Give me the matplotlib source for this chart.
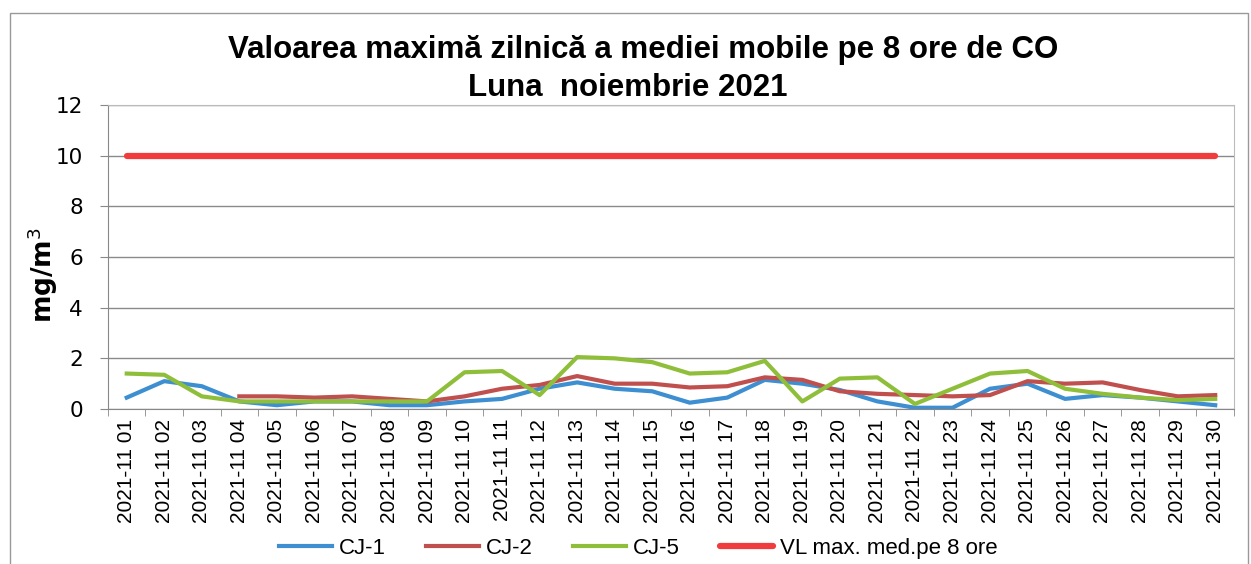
import numpy as np
import matplotlib
matplotlib.use("Agg")
import matplotlib.pyplot as plt
from matplotlib.patches import Rectangle

# daily max of 8h running mean, CO, mg/m3
days = ["2021-11 %02d" % d for d in range(1, 31)]
cj1 = [0.45, 1.1, 0.9, 0.3, 0.15, 0.3, 0.3, 0.15, 0.15, 0.3,
       0.4, 0.8, 1.05, 0.8, 0.7, 0.25, 0.45, 1.15, 1.0, 0.75,
       0.3, 0.05, 0.05, 0.8, 1.0, 0.4, 0.55, 0.45, 0.3, 0.15]
cj2 = [np.nan, np.nan, np.nan, 0.5, 0.5, 0.45, 0.5, 0.4, 0.3, 0.5,
       0.8, 0.95, 1.3, 1.0, 1.0, 0.85, 0.9, 1.25, 1.15, 0.7,
       0.6, 0.55, 0.5, 0.55, 1.1, 1.0, 1.05, 0.75, 0.5, 0.55]
cj5 = [1.4, 1.35, 0.5, 0.3, 0.3, 0.3, 0.3, 0.3, 0.3, 1.45,
       1.5, 0.55, 2.05, 2.0, 1.85, 1.4, 1.45, 1.9, 0.3, 1.2,
       1.25, 0.2, 0.8, 1.4, 1.5, 0.8, 0.6, 0.45, 0.35, 0.4]
vl = [10] * 30

fig = plt.figure(figsize=(12.51, 5.64), dpi=100)
ax = fig.add_axes([0.0863, 0.2748, 0.9001, 0.539])

x = np.arange(len(days))
ax.plot(x, cj1, color="#3d8fd1", lw=3, label="CJ-1")
ax.plot(x, cj2, color="#c0504d", lw=3, label="CJ-2")
ax.plot(x, cj5, color="#8fbf3a", lw=3, label="CJ-5")
ax.plot(x, vl, color="#f03c3c", lw=4.5, solid_capstyle="round", label="VL max. med.pe 8 ore")

ax.set_xlim(-0.5, len(days) - 0.5)
ax.set_ylim(0, 12)
ax.set_yticks(range(0, 13, 2))
ax.set_xticks(x)
ax.set_xticklabels(days, rotation=90, fontsize=15, family="Liberation Sans")
ax.set_xticks(np.arange(-0.5, len(days)), minor=True)
ax.tick_params(axis="x", which="major", length=0, pad=7)
ax.tick_params(axis="x", which="minor", length=5, color="#888888", direction="out")
ax.tick_params(axis="y", length=6, color="#888888", labelsize=15.5, pad=12)
ax.grid(axis="y", color="#8a8a8a", lw=1)
ax.set_axisbelow(True)
for s in ["top", "right"]:
    ax.spines[s].set_color("#bbbbbb")
for s in ["left", "bottom"]:
    ax.spines[s].set_color("#888888")

ax.set_ylabel("mg/m$^3$", fontsize=19, fontweight="bold")
ax.yaxis.set_label_coords(-0.043, 0.44)

fig.text(0.514, 1 - 50 / 564, "Valoarea maximă zilnică a mediei mobile pe 8 ore de CO",
         ha="center", va="center", fontsize=22.5, fontweight="bold", family="Liberation Sans")
fig.text(0.502, 1 - 88 / 564, "Luna  noiembrie 2021",
         ha="center", va="center", fontsize=22.5, fontweight="bold", family="Liberation Sans")

leg = fig.legend(loc="center", bbox_to_anchor=(0.51, 0.027), ncol=4, frameon=False,
                 prop={"family": "Liberation Sans", "size": 16},
                 handlelength=2.4, columnspacing=1.8, handletextpad=0.3)

fig.patches.append(Rectangle((0.008, -0.01), 0.99, 0.987, transform=fig.transFigure,
                             fill=False, edgecolor="#999999", lw=1))

fig.savefig("out.png", dpi=100)
